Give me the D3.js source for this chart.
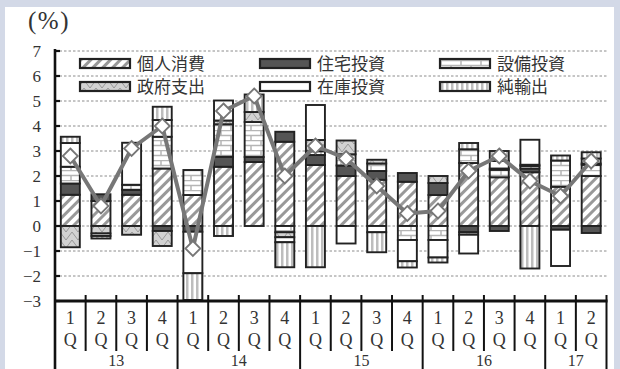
<!DOCTYPE html>
<html><head><meta charset="utf-8">
<script src="https://cdn.jsdelivr.net/npm/d3@7"></script>
<style>body{margin:0;background:#d3d9e7;}svg{display:block;}</style>
</head><body>
<svg id="c" width="620" height="369"></svg>
<script>
const quarters = ["1Q","2Q","3Q","4Q","1Q","2Q","3Q","4Q","1Q","2Q","3Q","4Q","1Q","2Q","3Q","4Q","1Q","2Q"];
const years = ["13","14","15","16","17"];
const yearCounts = [4,4,4,4,2];
const seriesNames = ["個人消費","住宅投資","設備投資","政府支出","在庫投資","純輸出"];
const consumption = [1.25,1.0,1.25,2.3,1.24,2.37,2.56,3.37,2.44,2.0,1.85,1.77,1.24,2.52,1.95,2.15,1.57,2.0];
const residential = [0.45,0.27,0.2,-0.2,-0.23,0.4,0.2,0.4,0.4,0.42,0.35,0.35,0.48,-0.25,-0.2,0.15,-0.15,-0.28];
const equipment = [0.67,0,0.2,1.27,1.0,1.3,1.4,-0.25,0.15,0.45,0.3,-0.56,-0.56,0.55,0.3,0.1,1.05,0.45];
const government = [-0.85,-0.3,-0.35,-0.6,0,0.15,0.4,-0.2,0.45,0.55,0.15,0,0.28,-0.1,0.05,0.05,0,0.05];
const inventory = [0.95,-0.1,1.68,0.67,-1.66,0.8,0,-0.2,1.4,-0.7,-0.25,-0.85,-0.7,-0.75,0.3,1.0,-1.45,0.2];
const netExports = [0.25,-0.1,0,0.53,-1.07,-0.4,0.7,-1.0,-1.65,0,-0.8,-0.25,-0.2,0.25,0.4,-1.7,0.2,0.25];
const gdp = [2.8,0.8,3.1,4.0,-0.9,4.6,5.2,2.0,3.2,2.7,1.6,0.5,0.6,2.2,2.8,1.8,1.2,2.6];
const yTicks = [7,6,5,4,3,2,1,0,-1,-2,-3];

const seriesValues = [consumption,residential,equipment,government,inventory,netExports];
const rows = quarters.map((q,i)=>{const r={idx:i}; seriesNames.forEach((k,j)=>r[k]=seriesValues[j][i]); return r;});

const svg = d3.select("#c");
svg.append("rect").attr("x",5).attr("y",7).attr("width",609).attr("height",362).attr("fill","#fff");

const defs = svg.append("defs");
const pH = defs.append("pattern").attr("id","p0").attr("patternUnits","userSpaceOnUse").attr("width",7).attr("height",7).attr("patternTransform","rotate(45)");
pH.append("rect").attr("width",7).attr("height",7).attr("fill","#fff");
pH.append("rect").attr("x",0).attr("width",3).attr("height",7).attr("fill","#999");

const pB = defs.append("pattern").attr("id","p2").attr("patternUnits","userSpaceOnUse").attr("width",20).attr("height",10);
pB.append("rect").attr("width",20).attr("height",10).attr("fill","#fff");
pB.append("path").attr("d","M0,0.5H20M0,5.5H20M1,0.5V5.5M11,5.5V10").attr("stroke","#b5b5b5").attr("stroke-width",1.5).attr("fill","none");

const pG = defs.append("pattern").attr("id","p3").attr("patternUnits","userSpaceOnUse").attr("width",12).attr("height",8);
pG.append("rect").attr("width",12).attr("height",8).attr("fill","#d2d2d2");
pG.append("path").attr("d","M0,0L6,8L12,0").attr("stroke","#8a8a8a").attr("stroke-width",0.8).attr("fill","none");

const pV = defs.append("pattern").attr("id","p5").attr("patternUnits","userSpaceOnUse").attr("width",5).attr("height",10);
pV.append("rect").attr("width",5).attr("height",10).attr("fill","#fff");
pV.append("rect").attr("x",1).attr("width",2.5).attr("height",10).attr("fill","#bdbdbd");

const fills = ["url(#p0)","#555","url(#p2)","url(#p3)","#fff","url(#p5)"];

const left = 55, right = 606.5, yTop = 51, yBot = 301;
const x = d3.scaleBand().domain(d3.range(quarters.length)).range([left,right]).padding(0);
const y = d3.scaleLinear().domain([-3,7]).range([yBot,yTop]);
const bw = x.bandwidth();
const barW = bw*0.62;

svg.append("g").selectAll("line").data(yTicks.filter(t=>t>-3)).join("line")
  .attr("x1",left).attr("x2",right+2).attr("y1",d=>y(d)).attr("y2",d=>y(d))
  .attr("stroke","#8c8c8c").attr("stroke-width",1).attr("stroke-dasharray","2.5,2");

const legPos = [[80,59],[260,59],[440,59],[80,82],[260,82],[440,82]];
const leg = svg.append("g");
seriesNames.forEach((name,s)=>{
  const [lx,ly] = legPos[s];
  leg.append("rect").attr("x",lx).attr("y",ly).attr("width",50).attr("height",9)
    .attr("fill",fills[s]).attr("stroke","#222").attr("stroke-width",2.2);
  leg.append("text").attr("x",lx+57).attr("y",ly+11).text(name)
    .attr("font-family","'Noto Sans CJK JP'").attr("font-size",17).attr("fill","#333");
});

const stack = d3.stack().keys(seriesNames).offset(d3.stackOffsetDiverging);
const stacked = stack(rows);
const gBars = svg.append("g");
stacked.forEach((layer,si)=>{
  gBars.append("g").selectAll("rect").data(layer.filter(d=>Math.abs(d[1]-d[0])>1e-9)).join("rect")
    .attr("x",d=>x(d.data.idx)+(bw-barW)/2).attr("width",barW)
    .attr("y",d=>y(Math.max(d[0],d[1]))).attr("height",d=>Math.abs(y(d[0])-y(d[1])))
    .attr("fill",fills[si]).attr("stroke","#222").attr("stroke-width",1.9);
});

const cx = i=>x(i)+bw/2;
svg.append("path").datum(gdp).attr("fill","none").attr("stroke","#777").attr("stroke-width",4)
  .attr("stroke-linejoin","round")
  .attr("d",d3.line().x((d,i)=>cx(i)).y(d=>y(d)));
svg.append("g").selectAll("path").data(gdp).join("path")
  .attr("d",(d,i)=>{const px=cx(i),py=y(d),r=7.5;return `M${px},${py-r}L${px+r},${py}L${px},${py+r}L${px-r},${py}Z`;})
  .attr("fill","#fff").attr("stroke","#777").attr("stroke-width",1.8);

svg.append("line").attr("x1",left).attr("x2",left).attr("y1",yTop-2).attr("y2",369).attr("stroke","#111").attr("stroke-width",2.6);
svg.append("g").selectAll("line").data(yTicks).join("line")
  .attr("x1",left).attr("x2",left+5).attr("y1",d=>y(d)).attr("y2",d=>y(d)).attr("stroke","#111").attr("stroke-width",2.2);
svg.append("g").selectAll("text").data(yTicks).join("text")
  .attr("x",41).attr("y",d=>y(d)+5.5).attr("text-anchor","end")
  .attr("font-family","'Liberation Serif'").attr("font-size",17).attr("fill","#333")
  .text(d=>d<0?"−"+Math.abs(d):d);
svg.append("text").attr("x",28).attr("y",29).text("(%)")
  .attr("font-family","'Liberation Serif'").attr("font-size",25).attr("letter-spacing",1.5).attr("fill","#333");

svg.append("line").attr("x1",left).attr("x2",right+1).attr("y1",yBot).attr("y2",yBot).attr("stroke","#111").attr("stroke-width",3);
const bounds = d3.range(quarters.length+1);
const yearBounds = [0]; yearCounts.reduce((a,c)=>{yearBounds.push(a+c);return a+c;},0);
const bx = k=> k<quarters.length ? x(k) : right;
svg.append("g").selectAll("line").data(bounds).join("line")
  .attr("x1",bx).attr("x2",bx).attr("y1",yBot-6)
  .attr("y2",k=>yearBounds.includes(k)?369:351)
  .attr("stroke","#111").attr("stroke-width",2);
const qg = svg.append("g").attr("font-family","'Liberation Serif'").attr("font-size",18).attr("fill","#333").attr("text-anchor","middle");
quarters.forEach((q,i)=>{
  qg.append("text").attr("x",cx(i)).attr("y",324).text(q[0]);
  qg.append("text").attr("x",cx(i)).attr("y",346).text(q[1]);
});
years.forEach((yr,j)=>{
  const a = yearBounds[j], b = yearBounds[j+1];
  qg.append("text").attr("x",(bx(a)+bx(b))/2).attr("y",366).attr("font-size",16).text(yr);
});
</script>
</body></html>
